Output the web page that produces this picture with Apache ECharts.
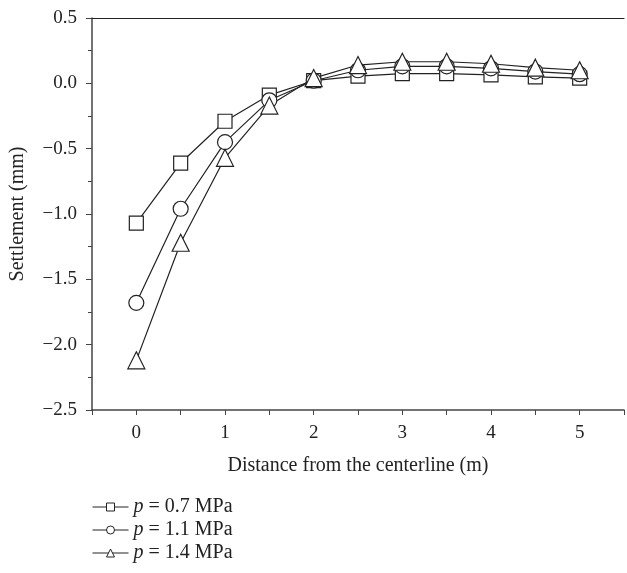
<!DOCTYPE html>
<html>
<head>
<meta charset="utf-8">
<script src="https://cdn.jsdelivr.net/npm/echarts@6/dist/echarts.min.js"></script>
<style>
  html, body { margin: 0; padding: 0; background: #fff; }
  #chart { width: 627px; height: 573px; }
</style>
</head>
<body>
<div id="chart"></div>
<script>
// distance from the centerline (m)
const distances = [0, 0.5, 1, 1.5, 2, 2.5, 3, 3.5, 4, 4.5, 5]
// settlement (mm) for each load
const settle07 = [-1.07, -0.61, -0.29, -0.09, 0.02, 0.055, 0.075, 0.075, 0.065, 0.05, 0.04]
const settle11 = [-1.68, -0.96, -0.45, -0.13, 0.02, 0.10, 0.13, 0.13, 0.115, 0.09, 0.07]
const settle14 = [-2.12, -1.22, -0.57, -0.17, 0.04, 0.14, 0.165, 0.165, 0.15, 0.12, 0.10]
const seriesNames = ['p = 0.7 MPa', 'p = 1.1 MPa', 'p = 1.4 MPa']

const font = '"Liberation Serif", "DejaVu Serif", serif'
const ink = '#222'

const chart = echarts.init(document.getElementById('chart'))

const pairs = ys => distances.map((x, i) => [x, ys[i]])

const mkSeries = (name, ys, symbol, size) => ({
  name,
  type: 'line',
  data: pairs(ys),
  symbol,
  symbolSize: size,
  showAllSymbol: true,
  lineStyle: { color: ink, width: 1.2 },
  itemStyle: { color: '#fff', borderColor: ink, borderWidth: 1.2 },
  emphasis: { disabled: true }
})

const option = {
  backgroundColor: '#fff',
  animation: false,
  grid: { left: 87, right: 0, top: 18, bottom: 163 },
  xAxis: [
    {
      type: 'value',
      min: -0.5,
      max: 5.5,
      interval: 0.5,
      name: 'Distance from the centerline (m)',
      nameLocation: 'middle',
      nameGap: 46,
      nameTextStyle: { fontFamily: font, fontSize: 20, color: ink },
      axisLine: { onZero: false, lineStyle: { color: '#444', width: 1.5 } },
      axisTick: { show: true, length: 5, lineStyle: { color: '#444' } },
      axisLabel: {
        fontFamily: font, fontSize: 19, color: ink, margin: 14,
        formatter: v => (Number.isInteger(v) && v >= 0 && v <= 5 ? String(v) : '')
      },
      splitLine: { show: false }
    },
    {
      type: 'value',
      position: 'top',
      min: -0.5,
      max: 5.5,
      axisLine: { show: true, onZero: false, lineStyle: { color: '#222', width: 1.2 } },
      axisTick: { show: false },
      axisLabel: { show: false },
      splitLine: { show: false }
    }
  ],
  yAxis: {
    type: 'value',
    min: -2.5,
    max: 0.5,
    interval: 0.5,
    name: 'Settlement (mm)',
    nameLocation: 'middle',
    nameGap: 64,
    nameTextStyle: { fontFamily: font, fontSize: 20, color: ink },
    axisLine: { show: true, onZero: false, lineStyle: { color: '#444', width: 1.5 } },
    axisTick: { show: true, length: 6, lineStyle: { color: '#444' } },
    minorTick: { show: true, splitNumber: 2, length: 4, lineStyle: { color: '#444' } },
    axisLabel: {
      fontFamily: font, fontSize: 19, color: ink, margin: 15,
      formatter: v => v.toFixed(1).replace('-', '\u2212')
    },
    splitLine: { show: false }
  },
  legend: {
    orient: 'vertical',
    left: 87,
    top: 492,
    itemWidth: 36,
    itemHeight: 10,
    itemGap: 3,
    data: seriesNames,
    itemStyle: { borderWidth: 1 },
    lineStyle: { width: 1 },
    formatter: n => '{i|p}' + n.slice(1),
    textStyle: {
      fontFamily: font, fontSize: 20, color: ink, lineHeight: 20,
      rich: { i: { fontFamily: font, fontSize: 20, fontStyle: 'italic', color: ink, lineHeight: 20 } }
    }
  },
  series: [
    mkSeries(seriesNames[0], settle07, 'rect', 14),
    mkSeries(seriesNames[1], settle11, 'circle', 15),
    mkSeries(seriesNames[2], settle14, 'triangle', 17)
  ]
}

chart.setOption(option)
</script>
</body>
</html>
